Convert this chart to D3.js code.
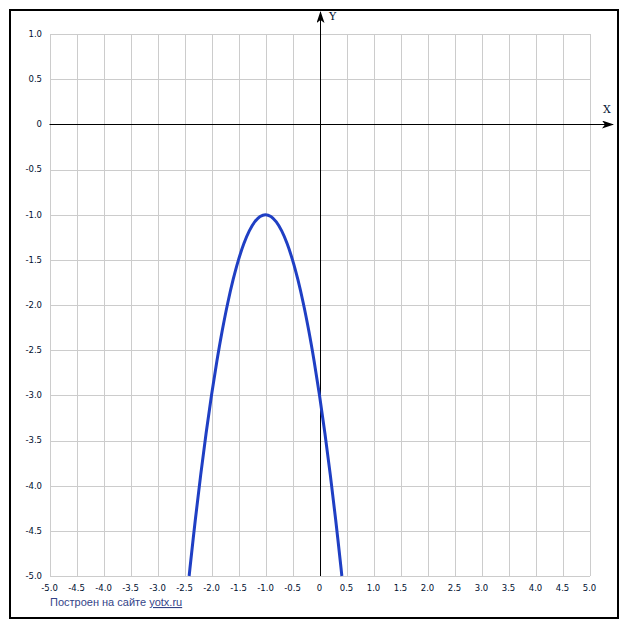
<!DOCTYPE html>
<html>
<head>
<meta charset="utf-8">
<script src="https://cdn.jsdelivr.net/npm/d3@7"></script>
<style>
  html, body { margin: 0; padding: 0; background: #fff; }
  svg { display: block; }
</style>
</head>
<body>
<svg id="chart" width="627" height="630"></svg>
<script>
// Curve points
const curveX = [-2.414, -2.4, -2.3, -2.2, -2.1, -2.0, -1.9, -1.8, -1.7, -1.6, -1.5, -1.4, -1.3, -1.2, -1.1, -1.0,
                -0.9, -0.8, -0.7, -0.6, -0.5, -0.4, -0.3, -0.2, -0.1, 0.0, 0.1, 0.2, 0.3, 0.4, 0.414];
const curveY = [-5.0, -4.92, -4.38, -3.88, -3.42, -3.0, -2.62, -2.28, -1.98, -1.72, -1.5, -1.32, -1.18, -1.08, -1.02, -1.0,
                -1.02, -1.08, -1.18, -1.32, -1.5, -1.72, -1.98, -2.28, -2.62, -3.0, -3.42, -3.88, -4.38, -4.92, -5.0];

const xTicks = [-5, -4.5, -4, -3.5, -3, -2.5, -2, -1.5, -1, -0.5, 0, 0.5, 1, 1.5, 2, 2.5, 3, 3.5, 4, 4.5, 5];
const yTicks = [1, 0.5, 0, -0.5, -1, -1.5, -2, -2.5, -3, -3.5, -4, -4.5, -5];
const xDomain = [-5, 5];
const yDomain = [-5, 1];
const footerText = "Построен на сайте ";
const footerLink = "yotx.ru";

(function () {
const svg = d3.select("#chart");
const pLeft = 49.5, pRight = 589.5, pTop = 34, pBottom = 576;
const x = d3.scaleLinear().domain(xDomain).range([pLeft, pRight]);
const y = d3.scaleLinear().domain(yDomain).range([pBottom, pTop]);
const fmt = v => v === 0 ? "0" : v.toFixed(1);

// Frame
svg.append("rect").attr("x", 10).attr("y", 10).attr("width", 608).attr("height", 608)
  .attr("fill", "#fff").attr("stroke", "#000").attr("stroke-width", 2);

// Grid
const grid = svg.append("g").attr("stroke", "#cccccc").attr("stroke-width", 1).attr("shape-rendering", "crispEdges");
grid.selectAll("line.v").data(xTicks).join("line")
  .attr("class", "v")
  .attr("x1", d => Math.round(x(d)) + 0.5).attr("x2", d => Math.round(x(d)) + 0.5)
  .attr("y1", pTop).attr("y2", pBottom);
grid.selectAll("line.h").data(yTicks).join("line")
  .attr("class", "h")
  .attr("x1", pLeft).attr("x2", pRight)
  .attr("y1", d => Math.round(y(d)) + 0.5).attr("y2", d => Math.round(y(d)) + 0.5);

// Tick labels
const labelFont = "'DejaVu Sans', Verdana, sans-serif";
svg.append("g").selectAll("text").data(yTicks).join("text")
  .attr("x", 42).attr("y", d => y(d)).attr("dy", "0.35em")
  .attr("text-anchor", "end").attr("font-family", labelFont).attr("font-size", 8.5)
  .attr("fill", "#001030").text(fmt);
svg.append("g").selectAll("text").data(xTicks).join("text")
  .attr("x", d => x(d)).attr("y", 588).attr("dy", "0.35em")
  .attr("text-anchor", "middle").attr("font-family", labelFont).attr("font-size", 8.5)
  .attr("fill", "#001030").text(fmt);

// Axes with arrows
const defs = svg.append("defs");
defs.append("marker").attr("id", "arrow").attr("viewBox", "0 0 12 8")
  .attr("refX", 11).attr("refY", 4).attr("markerWidth", 12).attr("markerHeight", 8)
  .attr("markerUnits", "userSpaceOnUse").attr("orient", "auto")
  .append("path").attr("d", "M0,0 L12,4 L0,8 L3,4 Z").attr("fill", "#000");

const x0 = Math.round(x(0)) + 0.5, y0 = Math.round(y(0)) + 0.5;
svg.append("line").attr("x1", pLeft).attr("x2", 613).attr("y1", y0).attr("y2", y0)
  .attr("stroke", "#000").attr("stroke-width", 1).attr("marker-end", "url(#arrow)");
svg.append("line").attr("x1", x0).attr("x2", x0).attr("y1", pBottom).attr("y2", 12)
  .attr("stroke", "#000").attr("stroke-width", 1).attr("marker-end", "url(#arrow)");

svg.append("text").attr("x", 329).attr("y", 20).attr("font-family", "'DejaVu Serif', 'Liberation Serif', serif")
  .attr("font-size", 11).attr("fill", "#001030").text("Y");
svg.append("text").attr("x", 603).attr("y", 113).attr("font-family", "'DejaVu Serif', 'Liberation Serif', serif")
  .attr("font-size", 11).attr("fill", "#001030").text("X");

// Curve
const pts = curveX.map((v, i) => [v, curveY[i]]);
const line = d3.line().x(d => x(d[0])).y(d => y(d[1])).curve(d3.curveCatmullRom);
svg.append("path").datum(pts).attr("d", line)
  .attr("fill", "none").attr("stroke", "#1f3fc4").attr("stroke-width", 3);

// Footer
const ft = svg.append("text").attr("x", 50).attr("y", 606)
  .attr("font-family", "'Liberation Sans', Arial, sans-serif").attr("font-size", 11).attr("fill", "#334488");
ft.append("tspan").text(footerText);
ft.append("tspan").attr("text-decoration", "underline").text(footerLink);
})();
</script>
</body>
</html>
